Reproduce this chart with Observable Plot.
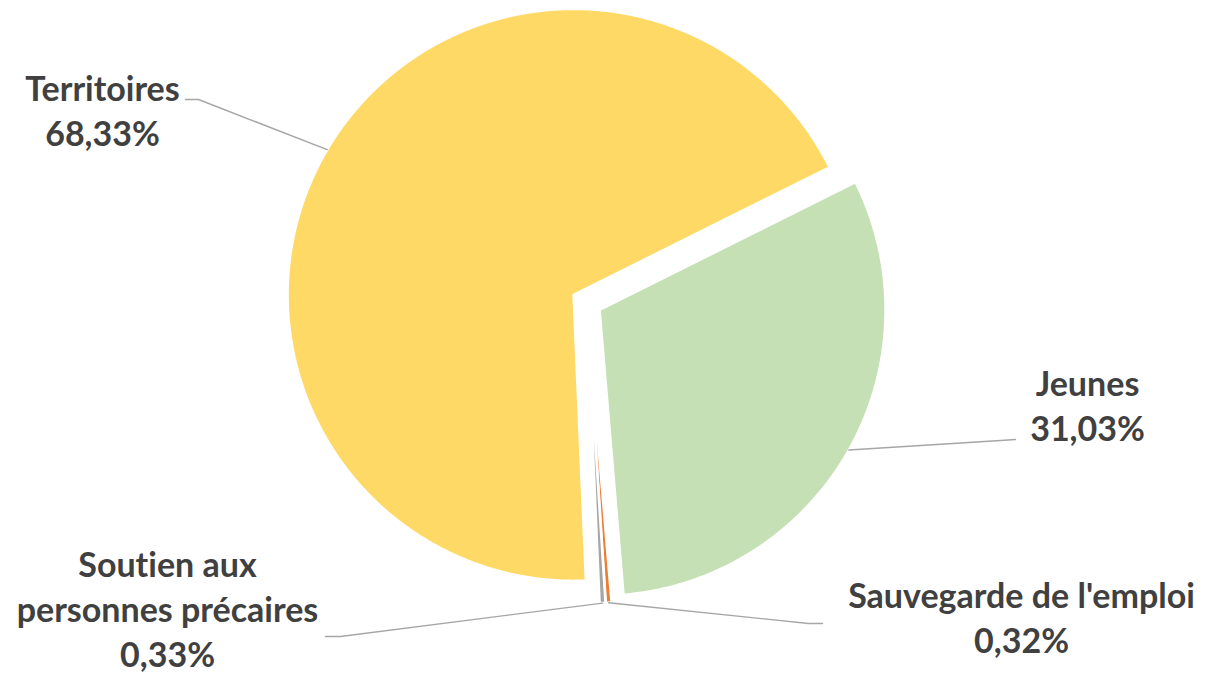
<!DOCTYPE html>
<html><head><meta charset="utf-8">
<script src="https://cdn.jsdelivr.net/npm/d3@7"></script>
<script src="https://cdn.jsdelivr.net/npm/@observablehq/plot@0.6"></script>
<style>html,body{margin:0;padding:0;background:#fff;overflow:hidden} svg text{font-variant-ligatures:none;font-feature-settings:"liga" 0,"clig" 0}</style>
</head><body><div id="chart"></div>
<script>
// ---- data ----
const categories = ["Jeunes", "Sauvegarde de l'emploi", "Soutien aux personnes précaires", "Territoires"];
const shares = [31.03, 0.32, 0.33, 68.33];
const labelLines = [["Jeunes"], ["Sauvegarde de l'emploi"], ["Soutien aux", "personnes précaires"], ["Territoires"]];
const colors = ["#C5E0B4", "#ED7D31", "#A5A5A5", "#FFD966"];

// ---- layout ----
const W = 1205, H = 673;
const cx = 586, cy = 302, R = 286, explode = 15;
const startDeg = 63.5;
const labelLayout = [
  {tx: 1087, ty: 440, elbow: [1000, 440], end: [1015, 439]},
  {tx: 1021, ty: 652, elbow: [808, 623], end: [822, 623]},
  {tx: 167, ty: 666, elbow: [340, 636], end: [325, 636]},
  {tx: 102, ty: 145, elbow: [198, 99], end: [185, 99]}
];

const total = d3.sum(shares);
const toRad = Math.PI / 180;
let acc = startDeg * toRad;
const slices = shares.map((v, i) => {
  const a0 = acc, a1 = acc + v / total * 2 * Math.PI;
  acc = a1;
  const am = (a0 + a1) / 2;
  const ox = cx + explode * Math.sin(am), oy = cy - explode * Math.cos(am);
  return {category: categories[i], value: v, a0, a1, am, ox, oy};
});

const slicePts = [];
for (const s of slices) {
  slicePts.push({category: s.category, x: s.ox, y: s.oy});
  const n = Math.max(2, Math.ceil((s.a1 - s.a0) / (0.4 * toRad)));
  for (let k = 0; k <= n; k++) {
    const a = s.a0 + (s.a1 - s.a0) * k / n;
    slicePts.push({category: s.category, x: s.ox + R * Math.sin(a), y: s.oy - R * Math.cos(a)});
  }
  slicePts.push({category: s.category, x: s.ox, y: s.oy});
}

const fmt = v => v.toFixed(2).replace(".", ",") + "%";
const leaderPts = [];
const labels = [];
slices.forEach((s, i) => {
  const L = labelLayout[i];
  leaderPts.push({category: s.category, x: s.ox + R * Math.sin(s.am), y: s.oy - R * Math.cos(s.am)});
  leaderPts.push({category: s.category, x: L.elbow[0], y: L.elbow[1]});
  leaderPts.push({category: s.category, x: L.end[0], y: L.end[1]});
  labels.push({x: L.tx, y: L.ty, text: [...labelLines[i], fmt(s.value)].join("\n")});
});

const fs = 34;
const chart = Plot.plot({
  width: W, height: H,
  margin: 0,
  x: {domain: [0, W], range: [0, W], axis: null},
  y: {domain: [0, H], range: [0, H], axis: null},
  color: {domain: categories, range: colors},
  marks: [
    Plot.line(slicePts, {x: "x", y: "y", z: "category", fill: "category", stroke: "white", strokeWidth: 2.5, curve: "linear-closed"}),
    Plot.line(leaderPts, {x: "x", y: "y", z: "category", stroke: "#A6A6A6", strokeWidth: 1.4}),
    Plot.text(labels, {x: "x", y: "y", text: "text", lineAnchor: "bottom", textAnchor: "middle",
      fontSize: fs, fontWeight: "bold", fontFamily: "Lato", fill: "#404040", lineHeight: 45 / fs})
  ]
});
document.getElementById("chart").appendChild(chart);
</script>
</body></html>
